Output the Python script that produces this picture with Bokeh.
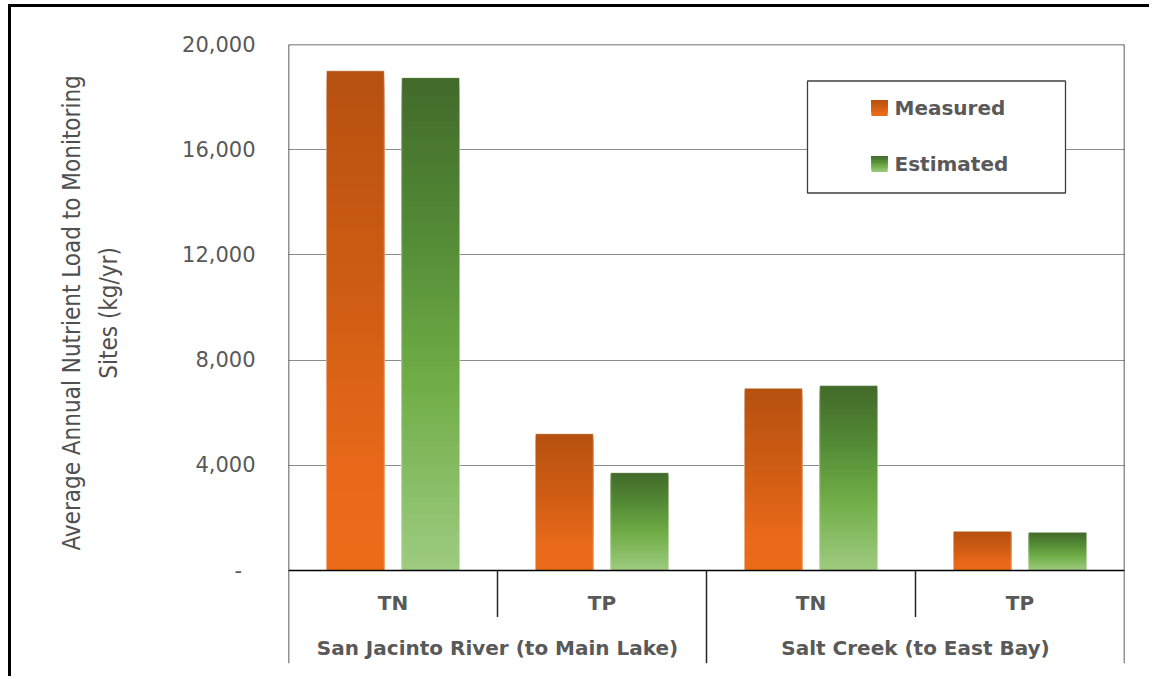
import numpy as np
from bokeh.plotting import figure
from bokeh.models import Range1d, FixedTicker, LinearAxis
from bokeh.core.properties import value
from bokeh.embed import file_html
from bokeh.resources import INLINE

# ---- data -------------------------------------------------------------
sites = ["San Jacinto River (to Main Lake)", "Salt Creek (to East Bay)"]
nutrients = ["TN", "TP", "TN", "TP"]
measured = [19000, 5200, 6930, 1490]
estimated = [18740, 3720, 7030, 1450]
series_names = ["Measured", "Estimated"]
y_ticks = [0, 4000, 8000, 12000, 16000, 20000]
y_tick_labels = ["-\u00a0\u00a0", "4,000", "8,000", "12,000", "16,000", "20,000"]
y_title = ["Average Annual Nutrient Load to Monitoring", "Sites (kg/yr)"]

# ---- styling ----------------------------------------------------------
TEXT = "#595959"
TITLE_TEXT = "#505050"
ORANGE_STOPS = [(0.0, "#B65110"), (0.45, "#CF5D13"), (0.8, "#E8691A"), (1.0, "#EB6C18")]
GREEN_STOPS = [(0.0, "#426A2A"), (0.3, "#528935"), (0.62, "#70AD47"), (1.0, "#9ECB80")]
BAR_W = 0.277
OFFSET = 0.18
N_STRIPS = 80

Y_MAX = 20000
Y_MIN = -3536

# axis titles are centred on the whole frame (which reaches below zero for
# the category rows); leading no-break spaces lift them to the bar area
TITLE_PAD = "\u00a0" * 12


def hex_rgb(h):
    h = h.lstrip("#")
    return np.array([int(h[i:i + 2], 16) for i in (0, 2, 4)], dtype=float)


def shade(stops, f):
    """Colour at fraction f (0 = top of the bar, 1 = bottom)."""
    for (f0, c0), (f1, c1) in zip(stops[:-1], stops[1:]):
        if f <= f1:
            t = (f - f0) / (f1 - f0) if f1 > f0 else 0.0
            rgb = hex_rgb(c0) * (1 - t) + hex_rgb(c1) * t
            return "#%02x%02x%02x" % tuple(int(round(v)) for v in rgb)
    return stops[-1][1]


# page-pixel helpers for placing annotation elements
def px_x(px):
    return (px - 288) / 209.0


def px_y(py):
    return (570.5 - py) * 20000 / 526.0


p = figure(
    width=1141, height=672,
    x_range=Range1d(0, 4), y_range=Range1d(Y_MIN, Y_MAX),
    x_axis_location=None,
    min_border_left=277, min_border_right=28,
    min_border_top=37, min_border_bottom=16,
    output_backend="svg", toolbar_location=None,
)
p.margin = (4, 0, 0, 8)
p.styles = {"border-top": "3px solid #000000", "border-left": "3px solid #000000"}
p.outline_line_color = None
p.background_fill_color = "white"
p.border_fill_color = "white"

# y axis
ax = p.yaxis[0]
ax.ticker = FixedTicker(ticks=y_ticks)
ax.major_label_overrides = dict(zip(y_ticks, y_tick_labels))
ax.axis_line_color = None
ax.major_tick_line_color = None
ax.minor_tick_line_color = None
ax.major_tick_out = 0
ax.major_tick_in = 0
ax.major_label_standoff = 33
ax.major_label_text_font = "DejaVu Sans"
ax.major_label_text_font_size = "21px"
ax.major_label_text_color = TEXT
ax.axis_label = TITLE_PAD + y_title[1]
ax.axis_label_standoff = 56
ax.axis_label_text_font = "DejaVu Sans Condensed"
ax.axis_label_text_font_size = "24px"
ax.axis_label_text_font_style = "normal"
ax.axis_label_text_color = TITLE_TEXT

# outer line of the two-line axis title
ax2 = LinearAxis(ticker=FixedTicker(ticks=[]), axis_label=TITLE_PAD + y_title[0])
ax2.axis_line_color = None
ax2.major_tick_line_color = None
ax2.minor_tick_line_color = None
ax2.major_tick_out = 0
ax2.major_tick_in = 0
ax2.major_label_text_font_size = "0px"
ax2.major_label_standoff = 0
ax2.axis_label_standoff = 7
ax2.axis_label_text_font = "DejaVu Sans Condensed"
ax2.axis_label_text_font_size = "24px"
ax2.axis_label_text_font_style = "normal"
ax2.axis_label_text_color = TITLE_TEXT
p.add_layout(ax2, "left")

p.xgrid.visible = False
p.ygrid.grid_line_color = "#8C8C8C"
p.ygrid.grid_line_width = 1

# ---- gradient bars ----------------------------------------------------
# each bar is painted as nested slabs from its full height down, so the
# shading changes smoothly without seams between the slabs
centers = np.arange(len(nutrients)) + 0.5
L, R, T, C = [], [], [], []
for vals, off, stops in ((measured, -OFFSET, ORANGE_STOPS), (estimated, OFFSET, GREEN_STOPS)):
    for c, v in zip(centers, vals):
        for k in range(N_STRIPS, 0, -1):
            L.append(c + off - BAR_W / 2)
            R.append(c + off + BAR_W / 2)
            T.append(v * k / N_STRIPS)
            C.append(shade(stops, 1 - (k - 0.5) / N_STRIPS))
p.quad(left=L, right=R, bottom=[0] * len(T), top=T, fill_color=C, line_color=None)

# thin light rim around each bar
for vals, off in ((measured, -OFFSET), (estimated, OFFSET)):
    p.quad(left=[c + off - BAR_W / 2 for c in centers],
           right=[c + off + BAR_W / 2 for c in centers],
           bottom=[0] * len(vals), top=vals,
           fill_color=None, line_color="#FFFFFF", line_alpha=0.5, line_width=1)

# ---- frame and category dividers ---------------------------------------
p.segment(x0=[0], y0=[Y_MAX], x1=[4], y1=[Y_MAX], line_color="#3F3F3F", line_width=1.5)
p.segment(x0=[0], y0=[0], x1=[4], y1=[0], line_color="#000000", line_width=1.5)
div_full = [0, 2, 4]
p.segment(x0=div_full, y0=[Y_MAX if x != 2 else 0 for x in div_full],
          x1=div_full, y1=[Y_MIN] * 3, line_color="#262626", line_width=1.5)
div_short = [1, 3]
p.segment(x0=div_short, y0=[0, 0], x1=div_short, y1=[px_y(617)] * 2,
          line_color="#262626", line_width=1.5)

# category labels
p.text(x=list(centers), y=[px_y(603)] * 4, text=nutrients,
       text_font=value("DejaVu Sans"), text_font_style="bold",
       text_font_size="20px", text_color=TEXT,
       text_align="center", text_baseline="middle")
p.text(x=[1.0, 3.0], y=[px_y(648)] * 2, text=sites,
       text_font=value("DejaVu Sans"), text_font_style="bold",
       text_font_size="20px", text_color=TEXT,
       text_align="center", text_baseline="middle")

# ---- legend -----------------------------------------------------------
p.quad(left=[px_x(807)], right=[px_x(1065)], top=[px_y(81)], bottom=[px_y(193)],
       fill_color="white", line_color="#3F3F3F", line_width=1.3)
for name, row_y, stops in ((series_names[0], 108, ORANGE_STOPS), (series_names[1], 164, GREEN_STOPS)):
    n = 12
    for k in range(n, 0, -1):
        p.quad(left=[px_x(871)], right=[px_x(887)],
               top=[px_y(row_y - 8)], bottom=[px_y(row_y - 8 + 16 * k / n)],
               fill_color=shade(stops, (k - 0.5) / n), line_color=None)
    p.text(x=[px_x(894)], y=[px_y(row_y)], text=[name],
           text_font=value("DejaVu Sans"), text_font_style="bold",
           text_font_size="20px", text_color=TEXT,
           text_align="left", text_baseline="middle")

open("out.html", "w").write(file_html(p, INLINE))
